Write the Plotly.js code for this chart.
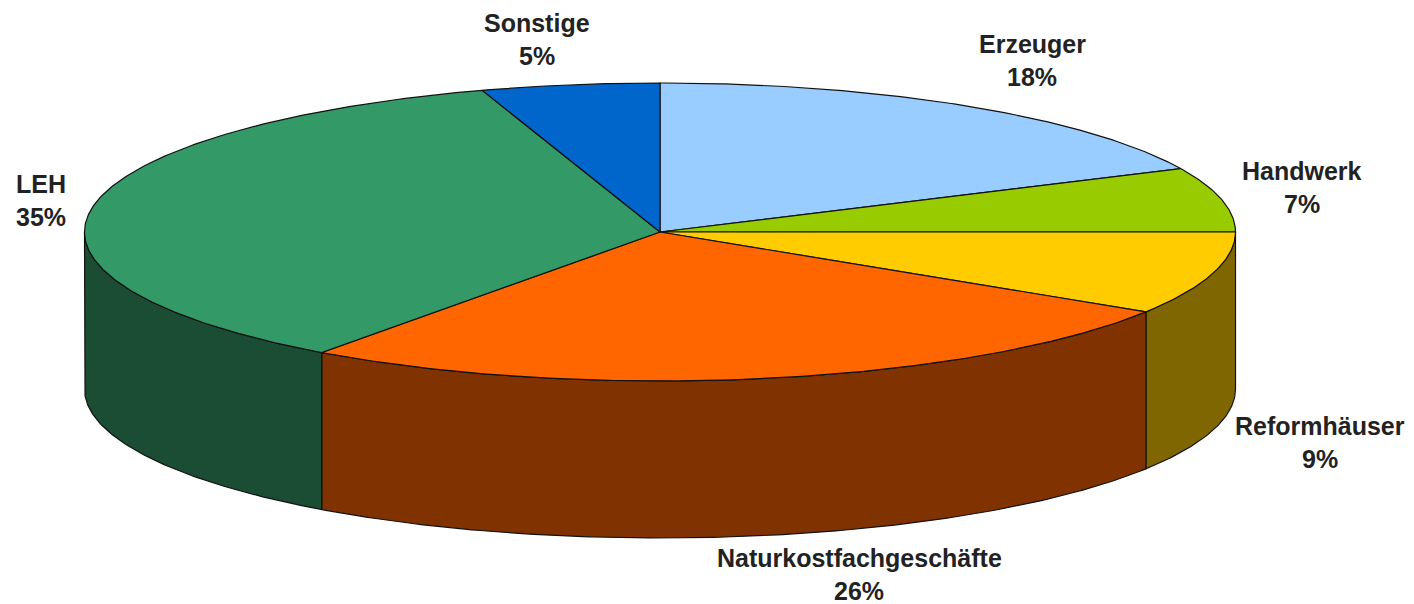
<!DOCTYPE html>
<html>
<head>
<meta charset="utf-8">
<script src="https://cdn.plot.ly/plotly-3.0.1.min.js"></script>
<style>html,body{margin:0;padding:0;background:#fff}#chart{width:1414px;height:604px}</style>
</head>
<body>
<div id="chart"></div>
<script>
const categories = ["Erzeuger", "Handwerk", "Reformhäuser", "Naturkostfachgeschäfte", "LEH", "Sonstige"];
const shares = [18, 7, 9, 26, 35, 5];
const topColors = ["#99CCFF", "#99CC00", "#FFCC00", "#FF6600", "#339966", "#0066CC"];
const sideColors = ["#4D6680", "#4D6600", "#806600", "#803300", "#1A4D33", "#003366"];

// Label anchors and pie geometry (drawing setup, not data)
const labelX = [1032, 1302, 1320, 859, 41, 537];
const labelY = [60, 187, 442, 574, 200, 39];
const lineGap = 16.5;
const cx = 660, cy = 232, rx = 575.5, ry = 149, depth = 157;

const total = shares.reduce((a, b) => a + b, 0);
const pt = (deg, dy) => {
  const t = deg * Math.PI / 180;
  return [cx + rx * Math.sin(t), cy - ry * Math.cos(t) + dy];
};
const arc = (a, b, dy) => {
  const n = Math.max(2, Math.ceil(Math.abs(b - a) * 2));
  const out = [];
  for (let i = 0; i <= n; i++) out.push(pt(a + (b - a) * i / n, dy));
  return out;
};
const poly = (pts, fill, name) => ({
  type: "scatter", mode: "lines", fill: "toself", fillcolor: fill, name,
  x: pts.map(p => p[0]), y: pts.map(p => p[1]),
  line: {color: "#111", width: 1.2, shape: "linear"},
  hoverinfo: "name", showlegend: false
});

const sides = [], tops = [];
let acc = 0;
shares.forEach((v, i) => {
  const a = acc / total * 360, b = (acc + v) / total * 360;
  acc += v;
  const sa = Math.max(a, 90), sb = Math.min(b, 270);
  if (sb > sa) {
    sides.push(poly([...arc(sa, sb, 0), ...arc(sb, sa, depth), pt(sa, 0)], sideColors[i], categories[i]));
  }
  tops.push(poly([[cx, cy], ...arc(a, b, 0), [cx, cy]], topColors[i], categories[i]));
});

const font = {family: "'Liberation Sans', Arial, sans-serif", size: 25, weight: 700, color: "#222"};
const annotations = categories.flatMap((c, i) => [
  {x: labelX[i], y: labelY[i] - lineGap, text: c},
  {x: labelX[i], y: labelY[i] + lineGap, text: shares[i] + "%"}
]).map(a => ({...a, xref: "x", yref: "y", showarrow: false, xanchor: "center", yanchor: "middle", font}));

Plotly.newPlot("chart", [...sides, ...tops], {
  width: 1414, height: 604,
  margin: {l: 0, r: 0, t: 0, b: 0},
  paper_bgcolor: "#fff", plot_bgcolor: "#fff",
  showlegend: false,
  xaxis: {range: [0, 1414], visible: false, fixedrange: true},
  yaxis: {range: [604, 0], visible: false, fixedrange: true},
  annotations
}, {displayModeBar: false, responsive: false});
</script>
</body>
</html>
